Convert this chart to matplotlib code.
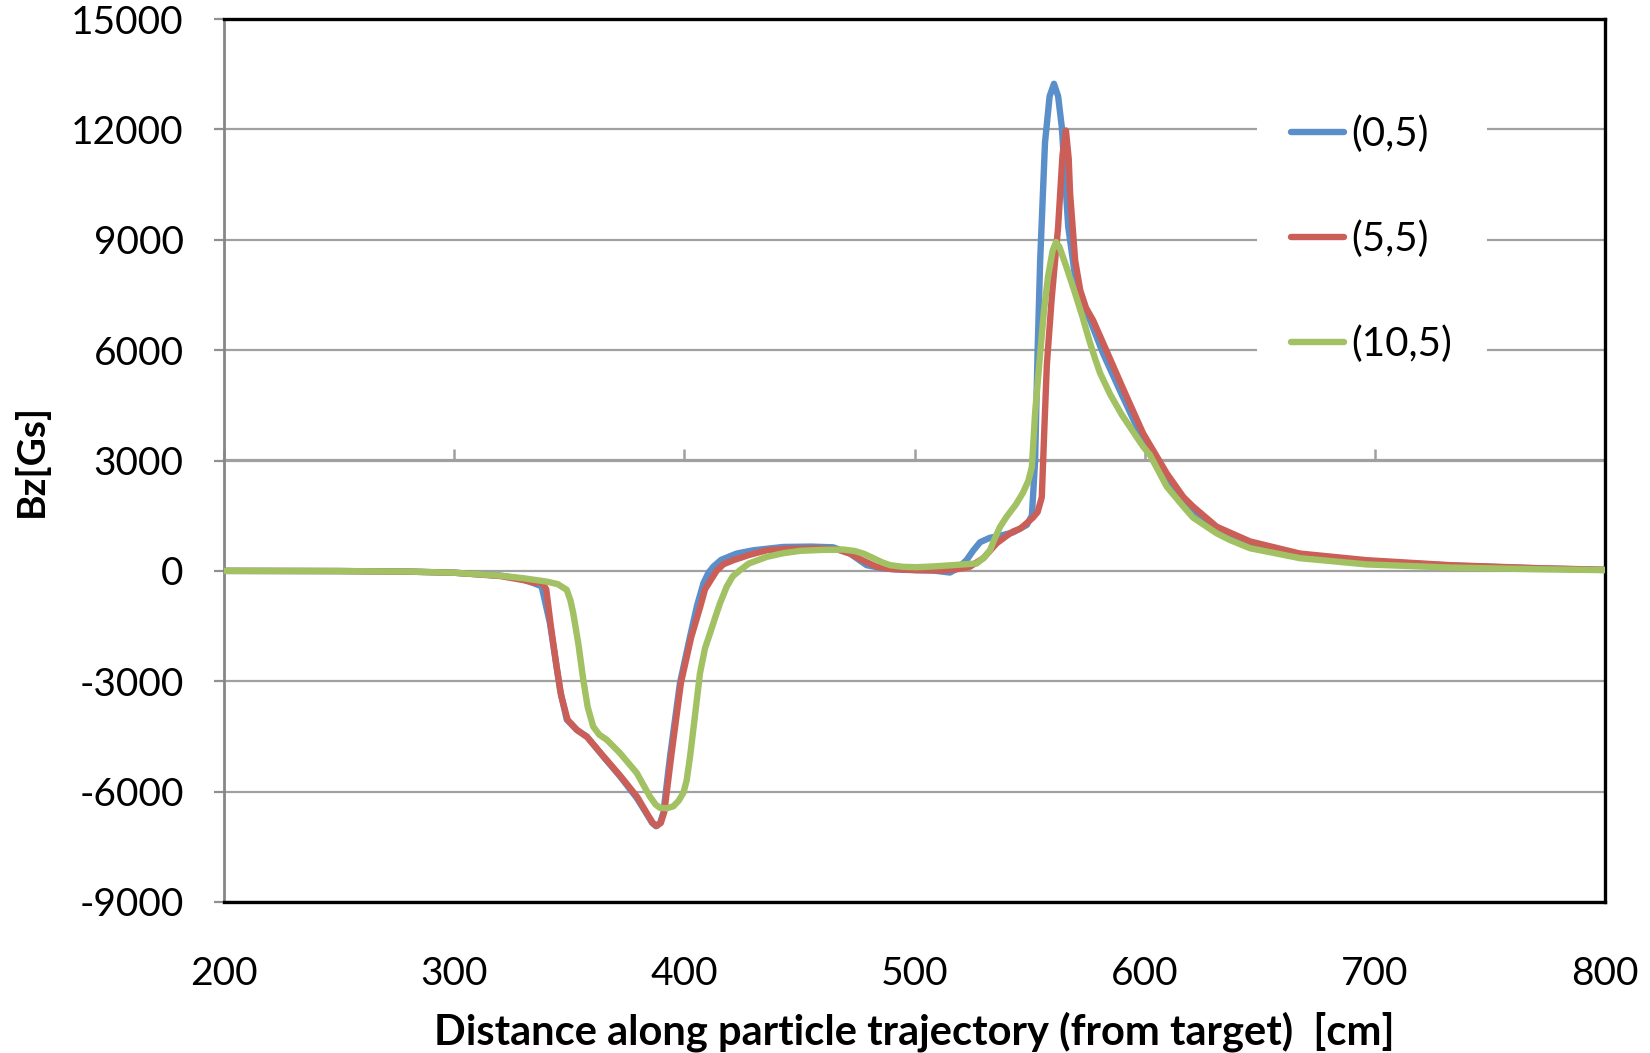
import matplotlib
matplotlib.use("Agg")
import matplotlib.pyplot as plt

plt.rcParams['font.family'] = ['Lato', 'DejaVu Sans']
plt.rcParams['axes.unicode_minus'] = False

# ---------------- data ----------------
series_labels = ["(0,5)", "(5,5)", "(10,5)"]

x_05 = [200, 250, 280, 300, 320, 330, 338, 341.6, 344, 346, 348.9, 353.2, 357.6, 364.7,
        372, 379.3, 383.6, 386, 387.7, 389.5, 390.9, 393.8, 398.1, 402.5, 405.5, 408.3,
        410.5, 412.6, 416, 422.7, 430, 443, 455, 464.7, 472, 479.2, 486.5, 495, 501, 508,
        515.4, 519, 522.7, 525.5, 528.5, 532.8, 537, 543, 548.8, 551, 552.4, 553.5, 554.6,
        556.7, 558.7, 560.6, 562.4, 564, 566.8, 569.8, 572.5, 576.3, 582, 590, 599.3,
        609.6, 621, 631.3, 645.8, 667.5, 696.5, 732.7, 770, 800]
y_05 = [0, -5, -20, -50, -130, -220, -420, -1420, -2400, -3230, -4040, -4320, -4500, -5040,
        -5580, -6170, -6600, -6850, -6940, -6850, -6570, -5040, -3050, -1780, -950, -335,
        -50, 115, 300, 470, 560, 650, 660, 640, 470, 155, 65, 30, 20, 10,
        -45, 80, 300, 550, 780, 900, 950, 1050, 1250, 1500, 3000, 6000, 8440,
        11640, 12900, 13240, 12900, 12060, 9350, 7990, 7300, 6810, 5900, 4800, 3550,
        2500, 1650, 1130, 760, 450, 270, 145, 70, 25]

x_55 = [200, 250, 280, 300, 320, 330, 335, 338, 340, 342, 344.5, 346.5, 349.3, 353.5, 357.8,
        365, 372.3, 379.6, 384, 386.3, 388, 389.8, 391.3, 394.3, 398.5, 403, 406.8, 409,
        411.5, 414, 417, 421.3, 428, 435.8, 445, 457.5, 466, 472, 477, 483.6, 490, 501,
        512, 518, 524, 530, 535.7, 540, 542.8, 546, 548.8, 551.5, 553.5, 555.3, 556.5,
        557.5, 559.6, 562.4, 564.3, 565.8, 567, 567.6, 569.8, 572, 574.5, 577.6, 584,
        591, 599.3, 609.6, 616.8, 621, 631.3, 645.8, 667.5, 696.5, 732.7, 770, 800]
y_55 = [0, -5, -20, -50, -140, -250, -330, -300, -500, -1500, -2600, -3400, -4050, -4330, -4520,
        -5050, -5580, -6150, -6620, -6850, -6930, -6850, -6550, -5040, -3050, -1800, -1000, -500,
        -250, 0, 180, 290, 430, 560, 600, 610, 590, 470, 300, 110, 50, 20,
        10, 40, 110, 350, 750, 950, 1070, 1150, 1300, 1450, 1600, 2000, 4000,
        5600, 7400, 9350, 11300, 11970, 11200, 10260, 8440, 7630, 7150, 6810, 5900,
        4900, 3740, 2650, 2010, 1750, 1200, 800, 470, 290, 155, 75, 30]

x_105 = [200, 250, 280, 300, 320, 330, 340, 345, 348.9, 350.5, 351.7, 354, 356.1, 358, 360.4,
         363, 366.3, 372, 379.3, 385, 387.5, 389.4, 392.5, 395.2, 397.5, 399.6, 401, 402.5,
         404.5, 406.8, 409, 411.2, 413.5, 415.5, 418.4, 421, 424.2, 428, 435.8, 443, 450.3,
         460, 469.1, 474, 477.8, 482, 486, 489.4, 495, 501, 508, 515.4, 522, 527, 530,
         532.8, 535, 537.2, 540, 544, 547, 549.5, 551, 552.4, 554.6, 556.3, 558, 560,
         561.5, 563, 566, 569.8, 573, 576, 578.4, 580.6, 585, 590, 599.3, 602.3, 609.6,
         616.8, 621, 631.3, 637, 645.8, 667.5, 696.5, 732.7, 770, 800]
y_105 = [0, -5, -20, -50, -130, -200, -290, -360, -515, -800, -1140, -2000, -2960, -3700, -4230,
         -4450, -4590, -4950, -5490, -6130, -6350, -6440, -6450, -6400, -6250, -6030, -5700, -5040,
         -4000, -2780, -2100, -1690, -1250, -880, -430, -150, 20, 200, 380, 480, 545,
         570, 580, 540, 470, 350, 230, 155, 110, 100, 120, 150, 180, 200, 350,
         560, 900, 1200, 1470, 1800, 2110, 2450, 2830, 4300, 5910, 7100, 7990, 8700,
         8940, 8800, 8260, 7540, 6900, 6250, 5780, 5380, 4800, 4250, 3380, 3150, 2290,
         1750, 1450, 1020, 840, 615, 345, 175, 90, 45, 20]

x_ticks = [200, 300, 400, 500, 600, 700, 800]
y_ticks = [-9000, -6000, -3000, 0, 3000, 6000, 9000, 12000, 15000]

colors = ["#5A8FC9", "#CB5F58", "#A1C163"]

# ---------------- figure ----------------
W, H = 1650, 1053
fig = plt.figure(figsize=(W / 100, H / 100), dpi=100)
L, R, T, B = 224, 1605, 19, 902
ax = fig.add_axes([L / W, 1 - B / H, (R - L) / W, (B - T) / H])

grid_c = "#A0A0A0"
ax.set_xlim(200, 800)
ax.set_ylim(-9000, 15000)
ax.set_yticks(y_ticks)
ax.set_yticklabels([str(v) for v in y_ticks])
ax.set_xticks(x_ticks)
ax.set_xticklabels([str(v) for v in x_ticks])
ax.yaxis.grid(True, color=grid_c, linewidth=1.6, zorder=0)
ax.xaxis.grid(False)
ax.set_axisbelow(True)

for xs, ys, c, lab in zip([x_05, x_55, x_105], [y_05, y_55, y_105], colors, series_labels):
    ax.plot(xs, ys, color=c, linewidth=4.6, label=lab, solid_capstyle='round',
            solid_joinstyle='round', zorder=3)

for s in ['top', 'right', 'bottom']:
    ax.spines[s].set_color('black')
    ax.spines[s].set_linewidth(2.4)
ax.spines['left'].set_color('#868686')
ax.spines['left'].set_linewidth(2.0)

ax.tick_params(axis='y', direction='out', length=7, width=1.6, color='#909090',
               labelsize=28, pad=22)
ax.tick_params(axis='x', length=0, labelsize=28, pad=39)

# horizontal axis crossing at 3000 with its tick marks
sec = ax.secondary_xaxis((3000 - (-9000)) / (15000 - (-9000)))
sec.set_xticks(x_ticks)
sec.tick_params(axis='x', direction='out', length=8, width=1.8, color=grid_c,
                labeltop=False, labelbottom=False)
for s in sec.spines.values():
    s.set_color(grid_c)
    s.set_linewidth(1.6)

ax.set_xlabel("Distance along particle trajectory (from target)  [cm]",
              fontsize=30, fontweight='bold', labelpad=14)
ax.set_ylabel("Bz[Gs]", fontsize=28, fontweight='bold', labelpad=16)

leg = ax.legend(loc='upper left', bbox_to_anchor=(1257 / W, 1 - 81 / H),
                bbox_transform=fig.transFigure, borderaxespad=0,
                fontsize=29, frameon=True, fancybox=False, framealpha=1,
                facecolor='white', edgecolor='none', handlelength=1.3,
                handletextpad=0.2, labelspacing=1.68, borderpad=0.85)
leg.set_zorder(5)
for h in leg.get_lines():
    h.set_linewidth(4.6)
    h.set_solid_capstyle('round')

fig.savefig("out.png", dpi=100)
